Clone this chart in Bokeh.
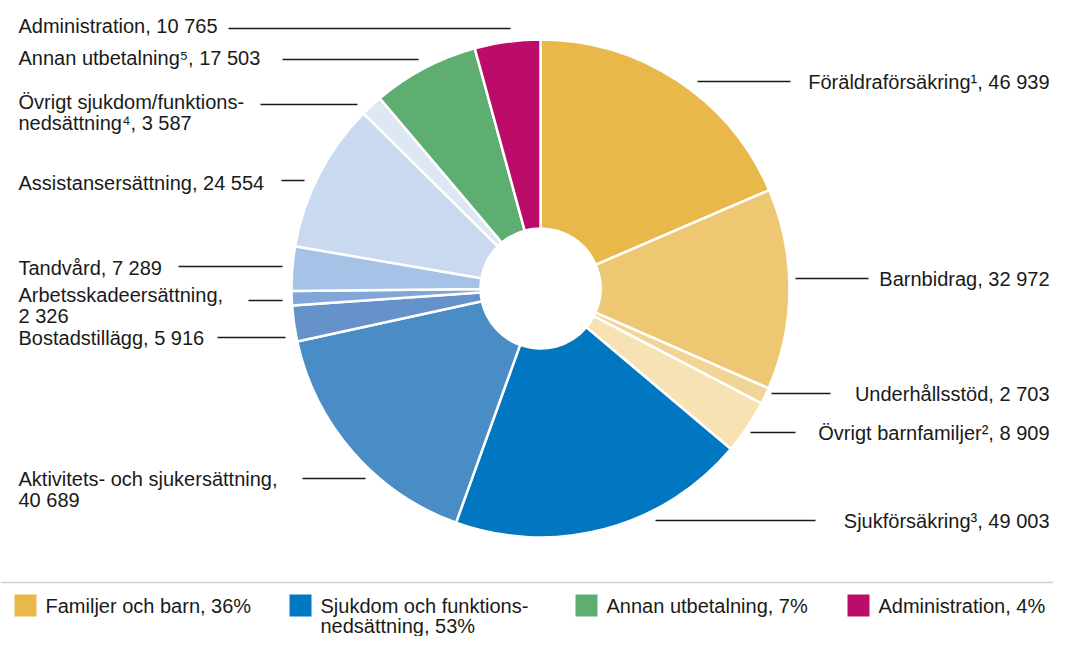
from bokeh.plotting import figure
from bokeh.models import Range1d, ColumnDataSource
from bokeh.core.properties import value
from bokeh.embed import file_html
from bokeh.resources import INLINE
import math

# ---- data ----
categories = ["Föräldraförsäkring¹", "Barnbidrag", "Underhållsstöd", "Övrigt barnfamiljer²",
              "Sjukförsäkring³", "Aktivitets- och sjukersättning", "Bostadstillägg",
              "Arbetsskadeersättning", "Tandvård", "Assistansersättning",
              "Övrigt sjukdom/funktionsnedsättning⁴", "Annan utbetalning⁵", "Administration"]
values = [46939, 32972, 2703, 8909, 49003, 40689, 5916, 2326, 7289, 24554, 3587, 17503, 10765]
colors = ["#E8B94A", "#EDC771", "#F1D596", "#F6E2B2", "#0077C0", "#4A8CC6", "#6592CA",
          "#82A6D7", "#A6C2E6", "#C9D9EF", "#DEE7F4", "#5EAE72", "#BC0C6A"]
label_lines = [["Föräldraförsäkring¹, 46 939"], ["Barnbidrag, 32 972"], ["Underhållsstöd, 2 703"],
               ["Övrigt barnfamiljer², 8 909"], ["Sjukförsäkring³, 49 003"],
               ["Aktivitets- och sjukersättning,", "40 689"], ["Bostadstillägg, 5 916"],
               ["Arbetsskadeersättning,", "2 326"], ["Tandvård, 7 289"],
               ["Assistansersättning, 24 554"], ["Övrigt sjukdom/funktions-", "nedsättning⁴, 3 587"],
               ["Annan utbetalning⁵, 17 503"], ["Administration, 10 765"]]
legend_labels = [["Familjer och barn, 36%"], ["Sjukdom och funktions-", "nedsättning, 53%"],
                 ["Annan utbetalning, 7%"], ["Administration, 4%"]]
legend_colors = ["#E8B94A", "#0077C0", "#5EAE72", "#BC0C6A"]

# ---- layout (pixel coords of the picture) ----
W, H = 1053, 636
def Y(py):
    return 652 - py

CX, CY = 540, 288
R_OUT, R_IN = 249, 60
label_side = ["R", "R", "R", "R", "R", "L", "L", "L", "L", "L", "L", "L", "L"]
label_tx = [1049, 1049, 1049, 1049, 1049, 18, 18, 18, 18, 18, 18, 18, 18]
label_ty = [81, 278, 393, 432, 520, 478, 337, 294, 267, 182, 101, 57, 25]
lead_x0 = [697, 795, 771, 750, 655, 302, 217, 248, 178, 281, 260, 282, 228]
lead_x1 = [790, 868, 830, 795, 815, 365, 285, 282, 282, 304, 357, 418, 510]
lead_y = [81, 278, 393, 432, 520, 478, 337, 300, 266, 180, 104, 59, 28]
LINE_H = 21

p = figure(width=W, height=H, output_backend="svg", toolbar_location=None,
           x_range=Range1d(0, W), y_range=Range1d(16, 16 + H),
           min_border=0, outline_line_color=None)
p.axis.visible = False
p.grid.visible = False
p.background_fill_color = "white"
p.border_fill_color = "white"

total = sum(values)
starts, ends = [], []
cum = 0
for v in values:
    a0 = math.pi / 2 - 2 * math.pi * cum / total
    cum += v
    a1 = math.pi / 2 - 2 * math.pi * cum / total
    starts.append(a1)
    ends.append(a0)

src = ColumnDataSource(dict(start=starts, end=ends, color=colors,
                            x=[CX] * len(values), y=[Y(CY)] * len(values)))
p.annular_wedge(x="x", y="y", inner_radius=R_IN, outer_radius=R_OUT,
                start_angle="start", end_angle="end", fill_color="color",
                line_color="white", line_width=2.5, source=src)

p.segment(x0=lead_x0, y0=[Y(v) for v in lead_y], x1=lead_x1, y1=[Y(v) for v in lead_y],
          line_color="#1a1a1a", line_width=1.3)

tx, ty, tt, ta = [], [], [], []
for side, x, y0, lines in zip(label_side, label_tx, label_ty, label_lines):
    for k, s in enumerate(lines):
        tx.append(x)
        ty.append(Y(y0 + k * LINE_H))
        tt.append(s)
        ta.append("right" if side == "R" else "left")
p.text(x=tx, y=ty, text=tt, text_align=ta, text_baseline="middle",
       text_font=value("Liberation Sans"), text_font_size="20px", text_color="#1a1a1a")

p.segment(x0=[0], y0=[Y(582)], x1=[W], y1=[Y(582)], line_color="#cfcfcf", line_width=1.5)

leg_sq_x = [25, 300, 586, 858]
leg_tx = [45, 320, 606, 878]
LEG_Y = 605
p.rect(x=leg_sq_x, y=[Y(LEG_Y)] * 4, width=22, height=22, fill_color=legend_colors,
       line_color=None)
lx, ly, lt = [], [], []
for x, lines in zip(leg_tx, legend_labels):
    for k, s in enumerate(lines):
        lx.append(x)
        ly.append(Y(LEG_Y + k * 20))
        lt.append(s)
p.text(x=lx, y=ly, text=lt, text_align="left", text_baseline="middle",
       text_font=value("Liberation Sans"), text_font_size="20px", text_color="#1a1a1a")

open("out.html", "w").write(file_html(p, INLINE))
